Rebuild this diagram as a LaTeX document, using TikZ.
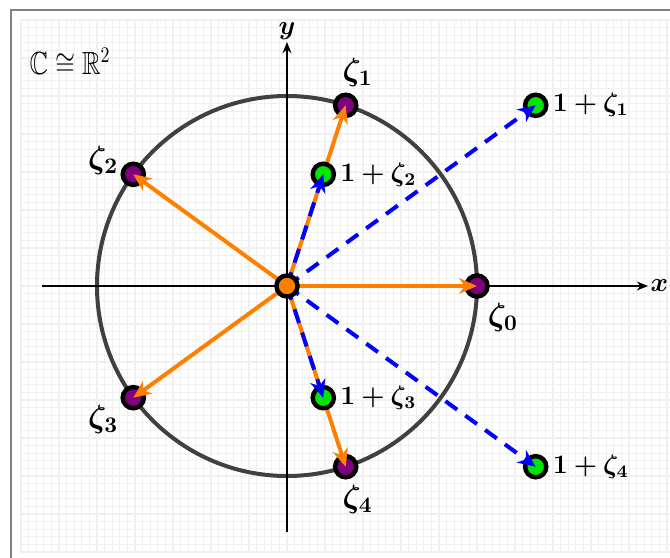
\documentclass[tikz,border=0pt]{standalone}
\usepackage{amsmath,amssymb,bm,graphicx}
\usetikzlibrary{arrows.meta}
\definecolor{ptpurple}{RGB}{128,0,128}
\definecolor{ptgreen}{RGB}{0,230,0}
\definecolor{arrorange}{RGB}{255,128,0}
\definecolor{gridcol}{RGB}{240,240,240}
\begin{document}
\begin{tikzpicture}[scale=3,
  pt/.style={circle,draw=black,line width=2pt,inner sep=0pt,minimum size=9.5pt},
  zpt/.style={pt,fill=ptpurple},
  opt/.style={pt,fill=ptgreen},
  orpt/.style={pt,fill=arrorange},
  orarrow/.style={arrorange,line width=1.8pt,-{Stealth[length=8pt,width=7pt,inset=2.5pt]}},
  bluearrow/.style={blue,line width=1.8pt,dash pattern=on 6.5pt off 4.5pt,-{Stealth[length=8pt,width=7pt,inset=2.5pt]}},
  axis/.style={black,line width=0.9pt,-{Stealth[length=5pt,width=4pt]}},
  zlab/.style={font=\Large},
  olab/.style={font=\large,anchor=west,inner sep=0pt}
]
\useasboundingbox (-1.5105,-1.4263) rectangle (2.0158,1.5053);
\fill[white] (-1.5105,-1.4263) rectangle (2.0158,1.5053);
\draw[gray,line width=0.6pt] (-1.4526,-1.6) rectangle (2.2,1.4526);
% grid
\draw[gridcol,line width=0.4pt] (-1.4,-1.4) grid[step=0.04] (2.02,1.4);
\draw[gridcol,line width=1.3pt] (-1.4,-1.4) grid[step=0.2] (2.02,1.4);
% unit circle
\draw[black!75,line width=1.8pt] (0,0) circle (1);
% axes
\coordinate (xs) at (-1.29,0);
\coordinate (xe) at (1.9,0);
\coordinate (ys) at (0,-1.295);
\coordinate (ye) at (0,1.284);
\draw[axis] (xs) -- (xe);
\draw[axis] (ys) -- (ye);
\node (xl) [anchor=west,inner sep=1pt] at (xe) {\large$\boldsymbol{x}$};
\node (yl) [anchor=south,inner sep=1pt] at (ye) {\large$\boldsymbol{y}$};
% title
\node (title) at (-1.142,1.179) {\scalebox{0.8}[1]{\Large$\mathbb{C}\cong\mathbb{R}^2$}};
% roots of unity
\node[zpt] (z0) at (1,0) {};
\node[zpt] (z1) at (0.309017,0.951057) {};
\node[zpt] (z2) at (-0.809017,0.587785) {};
\node[zpt] (z3) at (-0.809017,-0.587785) {};
\node[zpt] (z4) at (0.309017,-0.951057) {};
\node[zlab] (lz0) at (1.137,-0.168) {$\boldsymbol{\zeta_0}$};
\node[zlab] (lz1) at (0.372,1.125) {$\boldsymbol{\zeta_1}$};
\node[zlab] (lz2) at (-0.967,0.662) {$\boldsymbol{\zeta_2}$};
\node[zlab] (lz3) at (-0.967,-0.704) {$\boldsymbol{\zeta_3}$};
\node[zlab] (lz4) at (0.372,-1.125) {$\boldsymbol{\zeta_4}$};
% origin coordinate
\coordinate (o) at (0,0);
% orange arrows
\draw[orarrow] (o) -- (z0.center);
\draw[orarrow] (o) -- (z1.center);
\draw[orarrow] (o) -- (z2.center);
\draw[orarrow] (o) -- (z3.center);
\draw[orarrow] (o) -- (z4.center);
% 1 + zeta points
\node[opt] (p1) at (1.309017,0.951057) {};
\node[opt] (p2) at (0.190983,0.587785) {};
\node[opt] (p3) at (0.190983,-0.587785) {};
\node[opt] (p4) at (1.309017,-0.951057) {};
\node[olab] (lp1) at (1.397,0.951057) {$\boldsymbol{1+\zeta_1}$};
\node[olab] (lp2) at (0.279,0.587785) {$\boldsymbol{1+\zeta_2}$};
\node[olab] (lp3) at (0.279,-0.587785) {$\boldsymbol{1+\zeta_3}$};
\node[olab] (lp4) at (1.397,-0.951057) {$\boldsymbol{1+\zeta_4}$};
% blue dashed arrows
\draw[bluearrow] (o) -- (p1.center);
\draw[bluearrow] (o) -- (p2.center);
\draw[bluearrow] (o) -- (p3.center);
\draw[bluearrow] (o) -- (p4.center);
% origin point
\node[orpt] (org) at (o) {};
\end{tikzpicture}
\end{document}
